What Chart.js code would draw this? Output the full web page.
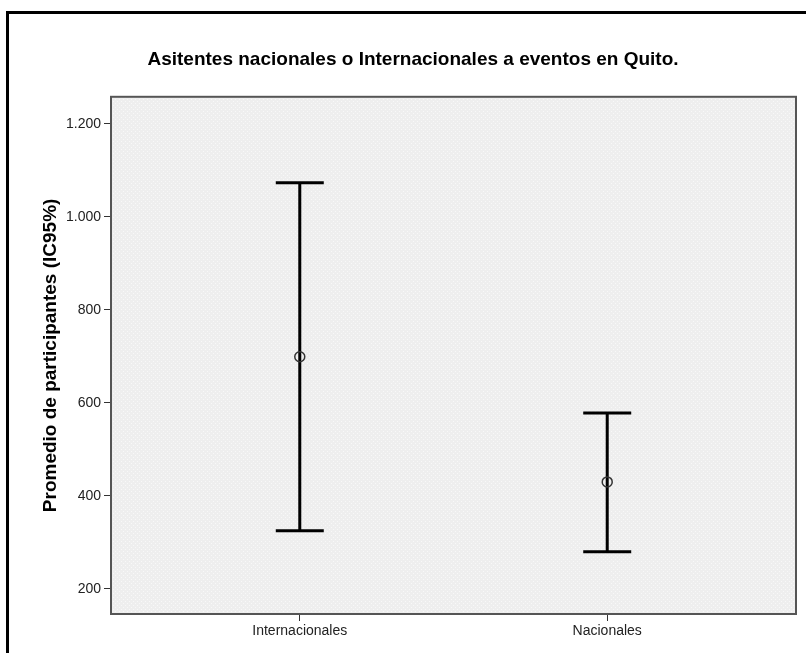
<!DOCTYPE html>
<html>
<head>
<meta charset="utf-8">
<script src="https://cdn.jsdelivr.net/npm/chart.js@4.4.1/dist/chart.umd.min.js"></script>
<style>
html, body { margin: 0; padding: 0; background: #fff; }
#wrap { width: 806px; height: 653px; }
</style>
</head>
<body>
<div id="wrap"><canvas id="grafico"></canvas></div>
<script>
const categorias = ['Internacionales', 'Nacionales'];
const medias = [699, 430];
const limInferior = [325, 280];
const limSuperior = [1073, 578];
const ticksY = [200, 400, 600, 800, 1000, 1200];

// patron de puntos del fondo (estilo SPSS)
const pat = document.createElement('canvas');
pat.width = 4; pat.height = 4;
const pctx = pat.getContext('2d');
pctx.fillStyle = '#eeeeee';
pctx.fillRect(0, 0, 4, 4);
pctx.fillStyle = '#f8f8f8';
pctx.fillRect(1, 1, 1, 1);
pctx.fillRect(3, 3, 1, 1);

const barrasError = {
    id: 'barrasError',
    beforeDraw(chart) {
        const ctx = chart.ctx;
        const a = chart.chartArea;
        ctx.save();
        ctx.fillStyle = ctx.createPattern(pat, 'repeat');
        ctx.fillRect(a.left, a.top, a.right - a.left, a.bottom - a.top);
        // marco exterior negro
        ctx.strokeStyle = '#000';
        ctx.lineWidth = 3;
        ctx.beginPath();
        ctx.moveTo(7.5, chart.height);
        ctx.lineTo(7.5, 12.5);
        ctx.lineTo(chart.width, 12.5);
        ctx.stroke();
        ctx.restore();
    },
    beforeDatasetsDraw(chart) {
        const ctx = chart.ctx;
        const xs = chart.scales.x, ys = chart.scales.y;
        ctx.save();
        ctx.strokeStyle = '#000';
        ctx.lineWidth = 3;
        categorias.forEach((c, i) => {
            const x = xs.getPixelForValue(i);
            const yLo = ys.getPixelForValue(limInferior[i]);
            const yHi = ys.getPixelForValue(limSuperior[i]);
            ctx.beginPath();
            ctx.moveTo(x, yLo);
            ctx.lineTo(x, yHi);
            ctx.moveTo(x - 24, yHi);
            ctx.lineTo(x + 24, yHi);
            ctx.moveTo(x - 24, yLo);
            ctx.lineTo(x + 24, yLo);
            ctx.stroke();
        });
        ctx.restore();
    },
    afterDraw(chart) {
        const ctx = chart.ctx;
        const a = chart.chartArea;
        ctx.save();
        ctx.strokeStyle = '#555';
        ctx.lineWidth = 2;
        ctx.strokeRect(a.left, a.top, a.right - a.left, a.bottom - a.top);
        ctx.restore();
    }
};

const ctx = document.getElementById('grafico');

new Chart(ctx, {
    type: 'scatter',
    data: {
        datasets: [{
            data: categorias.map((c, i) => ({ x: i, y: medias[i] })),
            pointStyle: 'circle',
            pointRadius: 5,
            pointBorderWidth: 1.5,
            pointBorderColor: '#333',
            pointBackgroundColor: 'rgba(0,0,0,0)'
        }]
    },
    options: {
        responsive: true,
        maintainAspectRatio: false,
        animation: false,
        layout: { padding: { left: 30, right: 10, top: 0, bottom: 0 } },
        plugins: {
            legend: { display: false },
            tooltip: { enabled: false },
            title: {
                display: true,
                text: 'Asitentes nacionales o Internacionales a eventos en Quito.',
                color: '#000',
                font: { family: 'Liberation Sans, Arial, sans-serif', size: 19, weight: 'bold' },
                padding: { top: 48, bottom: 26 }
            }
        },
        scales: {
            x: {
                type: 'linear',
                min: -0.614,
                max: 1.614,
                afterBuildTicks: (axis) => { axis.ticks = categorias.map((c, i) => ({ value: i })); },
                afterFit: (scale) => { scale.height = 39; },
                border: { display: false },
                grid: { drawOnChartArea: false, drawTicks: true, tickLength: 7, color: '#333' },
                ticks: {
                    color: '#222',
                    padding: 2,
                    maxRotation: 0,
                    font: { family: 'Liberation Sans, Arial, sans-serif', size: 14 },
                    callback: (v) => categorias[v]
                }
            },
            y: {
                min: 146,
                max: 1258,
                afterBuildTicks: (axis) => { axis.ticks = ticksY.map(v => ({ value: v })); },
                afterFit: (scale) => { scale.width = 81; },
                border: { display: false },
                grid: { drawOnChartArea: false, drawTicks: true, tickLength: 7, color: '#333' },
                ticks: {
                    color: '#222',
                    padding: 3,
                    font: { family: 'Liberation Sans, Arial, sans-serif', size: 14 },
                    callback: (v) => v.toLocaleString('de-DE')
                },
                title: {
                    display: true,
                    text: 'Promedio de participantes (IC95%)',
                    color: '#000',
                    font: { family: 'Liberation Sans, Arial, sans-serif', size: 19, weight: 'bold' },
                    padding: { top: 9, bottom: 0 }
                }
            }
        }
    },
    plugins: [barrasError]
});
</script>
</body>
</html>
